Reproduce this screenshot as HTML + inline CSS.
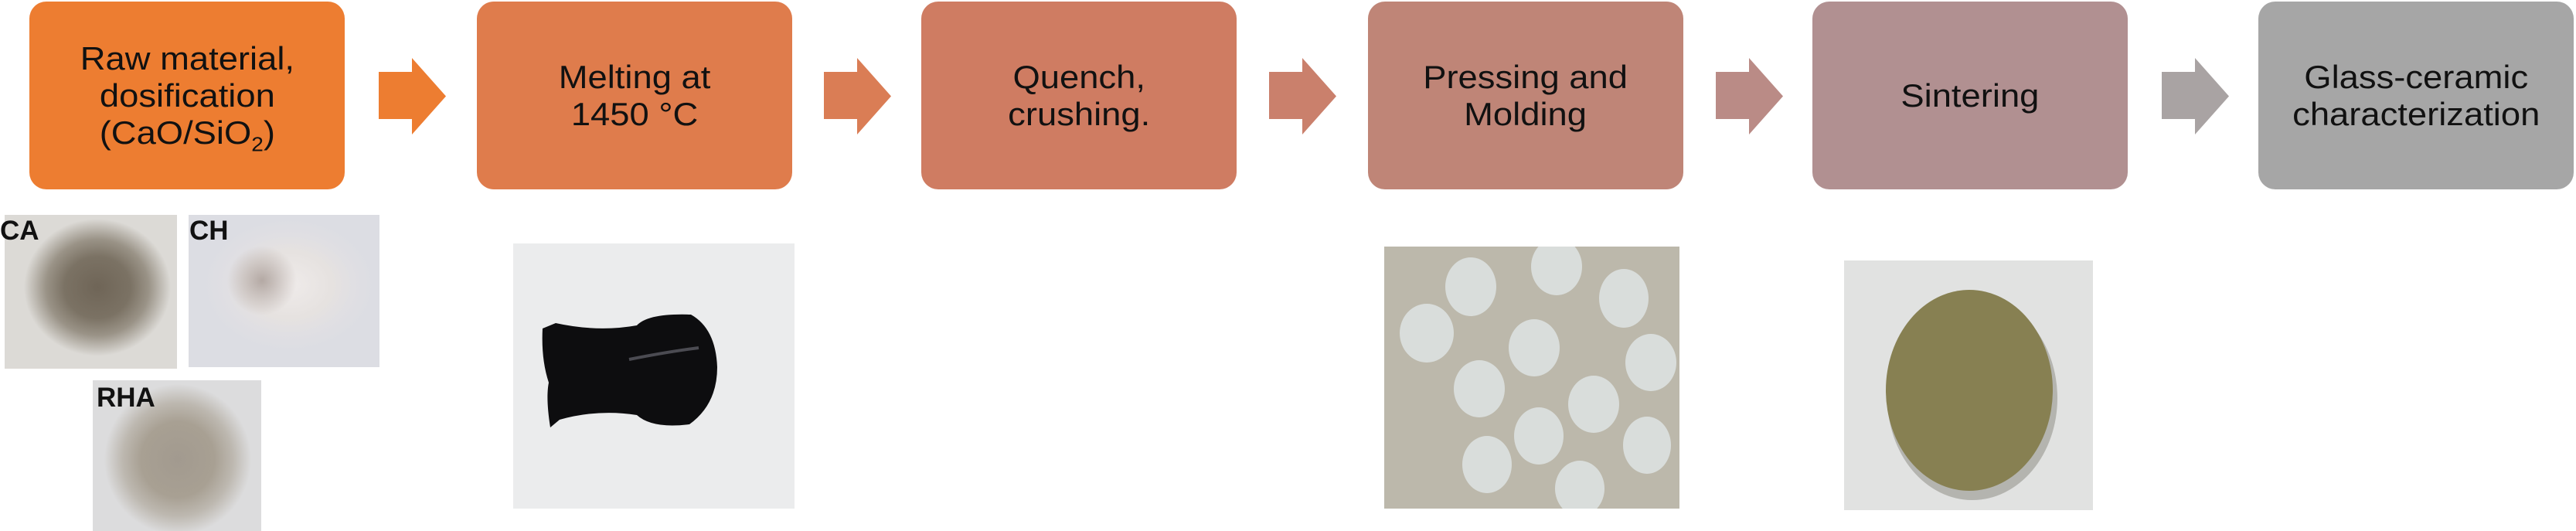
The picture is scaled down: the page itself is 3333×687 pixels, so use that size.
<!DOCTYPE html>
<html><head><meta charset="utf-8"><style>
body{margin:0;width:3333px;height:687px;background:#fff;position:relative;overflow:hidden;font-family:"Liberation Sans",Arial,sans-serif}
.b{position:absolute;top:2px;height:243px;width:408px;border-radius:22px;display:flex;align-items:center;justify-content:center;text-align:center;font-size:42px;line-height:48px;color:#111}
.b span{display:inline-block;transform:scaleX(1.08)}
.a{position:absolute;top:75px;width:87px;height:99px}
.p{position:absolute;overflow:hidden}
.lb{position:absolute;font-weight:bold;font-size:35px;color:#111;line-height:1}
</style></head><body>
<div class="b" style="left:38px;background:#ED7D31"><span>Raw material,<br>dosification<br>(CaO/SiO<sub style="font-size:26px;line-height:0">2</sub>)</span></div>
<div class="b" style="left:617px;background:#DF7C4C"><span>Melting at<br>1450 °C</span></div>
<div class="b" style="left:1192px;background:#CF7C62"><span>Quench,<br>crushing.</span></div>
<div class="b" style="left:1770px;background:#BF8577"><span>Pressing and<br>Molding</span></div>
<div class="b" style="left:2345px;background:#B19091"><span>Sintering</span></div>
<div class="b" style="left:2922px;background:#A6A6A6"><span>Glass-ceramic<br>characterization</span></div>

<svg class="a" style="left:490px" viewBox="0 0 87 99"><polygon points="0,18 43,18 43,0 87,49.5 43,99 43,79 0,79" fill="#ED7D31"/></svg>
<svg class="a" style="left:1066px" viewBox="0 0 87 99"><polygon points="0,18 43,18 43,0 87,49.5 43,99 43,79 0,79" fill="#DA7D55"/></svg>
<svg class="a" style="left:1642px" viewBox="0 0 87 99"><polygon points="0,18 43,18 43,0 87,49.5 43,99 43,79 0,79" fill="#CA806C"/></svg>
<svg class="a" style="left:2220px" viewBox="0 0 87 99"><polygon points="0,18 43,18 43,0 87,49.5 43,99 43,79 0,79" fill="#BA8B86"/></svg>
<svg class="a" style="left:2797px" viewBox="0 0 87 99"><polygon points="0,18 43,18 43,0 87,49.5 43,99 43,79 0,79" fill="#A9A3A3"/></svg>

<!-- powders -->
<div class="p" style="left:6px;top:278px;width:223px;height:199px;background:#dcdad6">
<div style="position:absolute;left:25px;top:5px;width:190px;height:185px;background:radial-gradient(ellipse closest-side at 50% 48%,#6f6557 0%,#7b7264 45%,#9a9387 70%,rgba(220,218,214,0) 100%)"></div></div>
<div class="p" style="left:244px;top:278px;width:247px;height:197px;background:#dcdde3">
<div style="position:absolute;left:20px;top:5px;width:220px;height:190px;background:radial-gradient(ellipse closest-side at 50% 45%,#efebea 0%,#e6e2e0 50%,#e0dfe3 75%,rgba(220,221,227,0) 100%)"></div>
<div style="position:absolute;left:50px;top:40px;width:90px;height:90px;background:radial-gradient(closest-side,#b4a9a4,rgba(220,221,227,0))"></div></div>
<div class="p" style="left:120px;top:492px;width:218px;height:195px;background:#dcdcdd">
<div style="position:absolute;left:15px;top:5px;width:190px;height:195px;background:radial-gradient(ellipse closest-side at 50% 50%,#a29a8f 0%,#a8a093 50%,#bdb8b0 75%,rgba(220,220,221,0) 100%)"></div></div>
<div class="lb" style="left:0;top:281px">CA</div>
<div class="lb" style="left:245px;top:281px">CH</div>
<div class="lb" style="left:125px;top:497px">RHA</div>

<!-- glass -->
<div class="p" style="left:664px;top:315px;width:364px;height:343px;background:#ebeced">
<svg width="364" height="343" viewBox="0 0 364 343"><path d="M38,110 L55,103 Q110,115 160,106 Q175,90 230,92 Q262,110 264,160 Q264,208 228,234 Q180,240 160,222 Q110,214 60,228 L48,238 Q42,200 46,180 Q36,150 38,110Z" fill="#0d0d0f"/><path d="M150,150 Q200,140 240,135" stroke="#4b4b52" stroke-width="4" fill="none"/></svg></div>

<!-- pellets -->
<div class="p" style="left:1791px;top:319px;width:382px;height:339px;background:#b8b4a8">
<svg width="382" height="339" viewBox="0 0 382 339">
<rect width="382" height="339" fill="#bcb8ab"/>
<g fill="#d9dddb">
<ellipse cx="112" cy="52" rx="33" ry="38"/><ellipse cx="223" cy="26" rx="33" ry="37"/><ellipse cx="310" cy="67" rx="32" ry="38"/>
<ellipse cx="55" cy="112" rx="35" ry="38"/><ellipse cx="194" cy="131" rx="33" ry="37"/><ellipse cx="345" cy="150" rx="33" ry="37"/>
<ellipse cx="123" cy="184" rx="33" ry="37"/><ellipse cx="271" cy="204" rx="33" ry="37"/><ellipse cx="200" cy="245" rx="32" ry="37"/>
<ellipse cx="133" cy="282" rx="32" ry="37"/><ellipse cx="340" cy="257" rx="31" ry="37"/><ellipse cx="253" cy="313" rx="32" ry="36"/>
</g></svg></div>

<!-- sinter -->
<div class="p" style="left:2386px;top:337px;width:322px;height:323px;background:#e1e2e1">
<svg width="322" height="322" viewBox="0 0 322 322"><ellipse cx="166" cy="178" rx="110" ry="132" fill="#4c4a3c" opacity="0.3"/><ellipse cx="162" cy="168" rx="108" ry="130" fill="#878052"/></svg></div>
</body></html>
